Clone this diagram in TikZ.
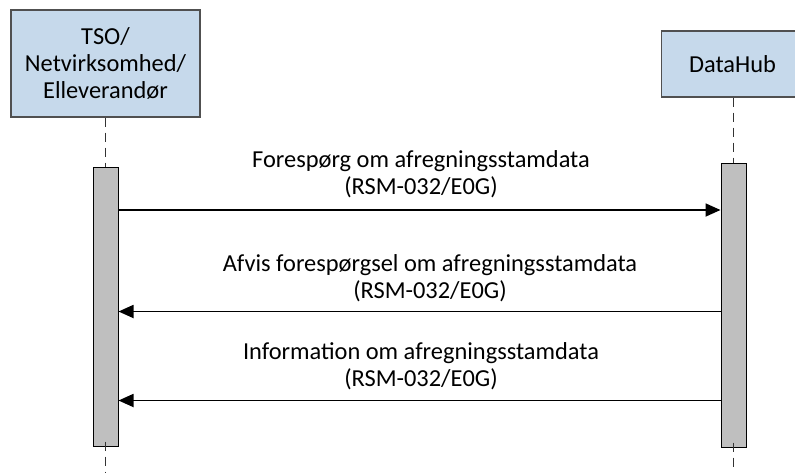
\documentclass[tikz,border=0pt]{standalone}
\usepackage{fontspec}
\setmainfont{Carlito}
\usetikzlibrary{arrows.meta}
\definecolor{boxblue}{RGB}{198,217,235}
\definecolor{boxedge}{RGB}{80,80,80}
\definecolor{bargray}{RGB}{191,191,191}
\tikzset{
  actor/.style={draw=boxedge, line width=1.3pt, fill=boxblue, inner sep=0pt, align=center,
    font=\fontsize{24.4}{27}\selectfont},
  actbar/.style={draw=black, line width=1pt, fill=bargray, inner sep=0pt, minimum width=25pt},
  lifeline/.style={draw=black!80, line width=0.9pt, dash pattern=on 9pt off 6pt},
  msg/.style={line width=1.8pt, -{Triangle[length=15pt,width=13pt]}},
  msglabel/.style={align=center, font=\fontsize{24.4}{27}\selectfont, inner sep=0pt}
}
\begin{document}
\begin{tikzpicture}[x=1pt,y=-1pt]
\useasboundingbox (0,0) rectangle (795,472);
\node[actor, minimum width=189pt, minimum height=107pt] (tso) at (105.5,63.5)
  {TSO/\\Netvirksomhed/\\Elleverandør};
\node[actor, anchor=west, minimum width=160pt, minimum height=66pt] (dhbox) at (660.7,64) {};
\node[inner sep=0pt, font=\fontsize{24.4}{27}\selectfont] (dh) at (732.5,64) {DataHub};
\node[actbar, minimum height=279pt] (b1) at (105.5,306.5) {};
\node[actbar, minimum height=284pt] (b2) at (733.5,305) {};
\coordinate (e1) at (105.5,472);
\coordinate (e2) at (733.5,472);
\draw[lifeline] (tso.south) -- (b1.north);
\draw[lifeline] ([yshift=5pt]b1.south) -- (e1);
\draw[lifeline] (b2.north |- dhbox.south) -- (b2.north);
\draw[lifeline] ([yshift=5pt]b2.south) -- (e2);
\draw[msg] (b1.east |- 0,210) -- (b2.west |- 0,210);
\draw[msg] (b2.west |- 0,311.5) -- (b1.east |- 0,311.5);
\draw[msg] (b2.west |- 0,400.5) -- (b1.east |- 0,400.5);
\node[msglabel] (l1) at (421,174) {Forespørg om afregningsstamdata\\(RSM-032/E0G)};
\node[msglabel] (l2) at (430,278) {Afvis forespørgsel om afregningsstamdata\\(RSM-032/E0G)};
\node[msglabel] (l3) at (421,366) {Information om afregningsstamdata\\(RSM-032/E0G)};
\end{tikzpicture}
\end{document}
